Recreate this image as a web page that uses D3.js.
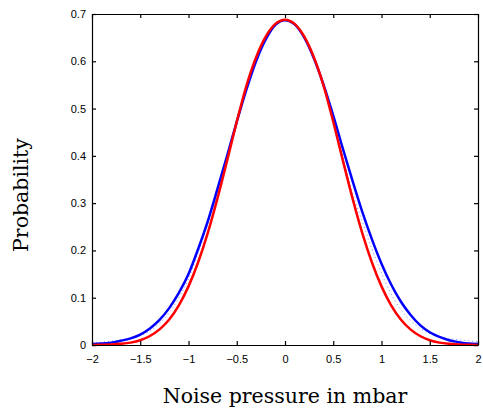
<!DOCTYPE html>
<html>
<head>
<meta charset="utf-8">
<script src="https://cdn.jsdelivr.net/npm/d3@7"></script>
<style>
  body { margin: 0; background: #fff; }
  .tick text { font-family: "Liberation Sans", Arial, sans-serif; font-size: 11px; fill: #000; }
  .label { font-family: "DejaVu Serif", serif; font-size: 20.5px; fill: #000; }
</style>
</head>
<body>
<div id="chart"></div>
<script>
// Noise pressure values (mbar)
const pressure = [-2.0, -1.9, -1.8, -1.7, -1.6, -1.5, -1.4, -1.3, -1.2, -1.1, -1.0,
                  -0.9, -0.8, -0.7, -0.6, -0.5, -0.4, -0.3, -0.2, -0.1, 0.0,
                  0.1, 0.2, 0.3, 0.4, 0.5, 0.6, 0.7, 0.8, 0.9, 1.0,
                  1.1, 1.2, 1.3, 1.4, 1.5, 1.6, 1.7, 1.8, 1.9, 2.0];

// Blue curve (wider fit)
const blueFit = [0.002, 0.003, 0.005, 0.009, 0.014, 0.022, 0.035, 0.053, 0.078, 0.110, 0.150,
                 0.203, 0.262, 0.330, 0.400, 0.472, 0.540, 0.600, 0.646, 0.677, 0.687,
                 0.678, 0.650, 0.606, 0.550, 0.485, 0.415, 0.347, 0.282, 0.224, 0.172,
                 0.128, 0.092, 0.064, 0.042, 0.027, 0.017, 0.010, 0.006, 0.003, 0.002];

// Red curve (narrower fit)
const redFit = [0.0002, 0.0005, 0.0012, 0.0025, 0.005, 0.010, 0.019, 0.033, 0.054, 0.084, 0.124,
                0.175, 0.237, 0.310, 0.390, 0.472, 0.548, 0.608, 0.652, 0.679, 0.688,
                0.679, 0.652, 0.608, 0.548, 0.472, 0.390, 0.310, 0.237, 0.175, 0.124,
                0.084, 0.054, 0.033, 0.019, 0.010, 0.005, 0.0025, 0.0012, 0.0005, 0.0002];

// Faint dotted measured data
const measured = [0.005, 0.006, 0.008, 0.011, 0.015, 0.020, 0.030, 0.046, 0.068, 0.100, 0.140,
                  0.195, 0.255, 0.320, 0.395, 0.472, 0.545, 0.604, 0.649, 0.678, 0.687,
                  0.678, 0.651, 0.607, 0.549, 0.478, 0.400, 0.322, 0.262, 0.204, 0.152,
                  0.108, 0.075, 0.052, 0.035, 0.024, 0.018, 0.014, 0.011, 0.009, 0.007];

const xTicks = [-2, -1.5, -1, -0.5, 0, 0.5, 1, 1.5, 2];
const xTickLabels = ["\u22122", "\u22121.5", "\u22121", "\u22120.5", "0", "0.5", "1", "1.5", "2"];
const yTicks = [0, 0.1, 0.2, 0.3, 0.4, 0.5, 0.6, 0.7];
const yTickLabels = ["0", "0.1", "0.2", "0.3", "0.4", "0.5", "0.6", "0.7"];

const width = 483,
      height = 411;
const margin = { top: 14, right: 5, bottom: 66, left: 92 };

const svg = d3.select("#chart").append("svg")
    .attr("width", width)
    .attr("height", height);

const x = d3.scaleLinear()
    .domain([-2, 2])
    .range([margin.left, width - margin.right]);

const y = d3.scaleLinear()
    .domain([0, 0.7])
    .range([height - margin.bottom, margin.top]);

// Curves
const line = series => d3.line()
    .x((d, i) => x(pressure[i]))
    .y(d => y(d))
    .curve(d3.curveMonotoneX)(series);

svg.append("path")
    .attr("d", line(measured))
    .attr("fill", "none")
    .attr("stroke", "#7f7fff")
    .attr("stroke-width", 1)
    .attr("stroke-dasharray", "1,3");

svg.append("path")
    .attr("d", line(blueFit))
    .attr("fill", "none")
    .attr("stroke", "#0000ff")
    .attr("stroke-width", 2.5);

svg.append("path")
    .attr("d", line(redFit))
    .attr("fill", "none")
    .attr("stroke", "#ff0000")
    .attr("stroke-width", 2.5);

// Axes with inward ticks on all sides
const bottomAxis = svg.append("g")
    .attr("transform", `translate(0,${y(0)})`)
    .call(d3.axisBottom(x)
        .tickValues(xTicks)
        .tickFormat((d, i) => xTickLabels[i])
        .tickSize(-4)
        .tickSizeOuter(0)
        .tickPadding(10));

const leftAxis = svg.append("g")
    .attr("transform", `translate(${x(-2)},0)`)
    .call(d3.axisLeft(y)
        .tickValues(yTicks)
        .tickFormat((d, i) => yTickLabels[i])
        .tickSize(-4)
        .tickSizeOuter(0)
        .tickPadding(6));

const topAxis = svg.append("g")
    .attr("transform", `translate(0,${y(0.7)})`)
    .call(d3.axisTop(x)
        .tickValues(xTicks)
        .tickFormat("")
        .tickSize(-4)
        .tickSizeOuter(0));

const rightAxis = svg.append("g")
    .attr("transform", `translate(${x(2)},0)`)
    .call(d3.axisRight(y)
        .tickValues(yTicks)
        .tickFormat("")
        .tickSize(-4)
        .tickSizeOuter(0));

[bottomAxis, leftAxis, topAxis, rightAxis].forEach(g => {
    g.attr("font-family", null).attr("font-size", null);
    g.selectAll("path, line").attr("stroke", "#000").attr("stroke-width", 1.2);
});

// Axis titles
svg.append("text")
    .attr("class", "label")
    .attr("x", (x(-2) + x(2)) / 2)
    .attr("y", 403)
    .attr("text-anchor", "middle")
    .text("Noise pressure in mbar");

svg.append("text")
    .attr("class", "label")
    .attr("transform", `translate(28,${195}) rotate(-90)`)
    .attr("text-anchor", "middle")
    .text("Probability");
</script>
</body>
</html>
